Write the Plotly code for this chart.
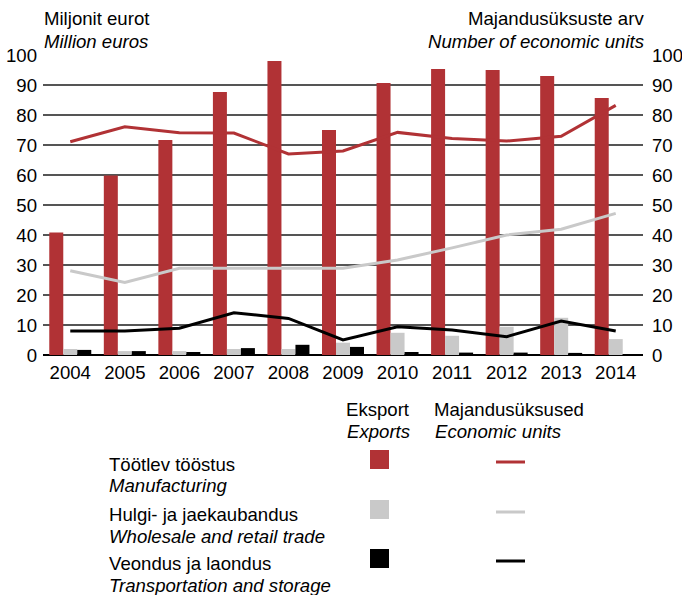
import plotly.graph_objects as go

years = ["2004", "2005", "2006", "2007", "2008", "2009", "2010", "2011", "2012", "2013", "2014"]
exports_manufacturing = [40.8, 59.8, 71.7, 87.7, 98.0, 75.0, 90.7, 95.3, 95.0, 93.0, 85.7]
exports_trade = [2.0, 1.3, 1.3, 2.0, 2.0, 4.1, 7.4, 6.4, 9.4, 12.4, 5.3]
exports_transport = [1.7, 1.3, 1.0, 2.3, 3.4, 2.7, 1.0, 0.8, 0.8, 0.7, 0.3]
units_manufacturing = [71.1, 76.1, 74.1, 74.0, 67.0, 68.0, 74.2, 72.2, 71.3, 72.9, 83.2]
units_trade = [28.1, 24.2, 28.9, 28.9, 28.9, 28.9, 31.7, 35.7, 40.0, 41.9, 47.2]
units_transport = [8.0, 8.0, 8.9, 14.1, 12.2, 5.0, 9.4, 8.3, 6.1, 11.3, 8.0]

tick_vals = [0, 10, 20, 30, 40, 50, 60, 70, 80, 90, 100]

series_et = ["Töötlev tööstus", "Hulgi- ja jaekaubandus", "Veondus ja laondus"]
series_en = ["Manufacturing", "Wholesale and retail trade", "Transportation and storage"]
colors = ["#B13235", "#C9C9C9", "#000000"]

FONT = "Liberation Sans, Arial, sans-serif"
FS = 18.6

W, H = 682, 595
L, R, T, B = 43, 39, 55, 240
PW = W - L - R
PH = H - T - B


def px(x):
    return (x - L) / PW


def py(y):
    return (H - B - y) / PH


fig = go.Figure()
for vals, col, name in zip([exports_manufacturing, exports_trade, exports_transport], colors, series_en):
    fig.add_trace(go.Bar(x=years, y=vals, marker=dict(color=col, line=dict(width=0)),
                         name=name, showlegend=False))
for vals, col, name in zip([units_manufacturing, units_trade, units_transport], colors, series_en):
    fig.add_trace(go.Scatter(x=years, y=vals, mode="lines", line=dict(color=col, width=3),
                             yaxis="y2", name=name, showlegend=False))

annotations = []
shapes = []

# header texts
annotations.append(dict(x=px(42), y=py(18), xref="paper", yref="paper", text="Miljonit eurot",
                        xanchor="left", yanchor="middle", showarrow=False))
annotations.append(dict(x=px(42), y=py(41), xref="paper", yref="paper", text="<i>Million euros</i>",
                        xanchor="left", yanchor="middle", showarrow=False))
annotations.append(dict(x=px(646), y=py(18), xref="paper", yref="paper", text="Majandusüksuste arv",
                        xanchor="right", yanchor="middle", showarrow=False))
annotations.append(dict(x=px(646), y=py(41), xref="paper", yref="paper", text="<i>Number of economic units</i>",
                        xanchor="right", yanchor="middle", showarrow=False))

# legend headers
annotations.append(dict(x=px(378), y=py(409), xref="paper", yref="paper", text="Eksport",
                        xanchor="center", yanchor="middle", showarrow=False))
annotations.append(dict(x=px(378), y=py(431), xref="paper", yref="paper", text="<i>Exports</i>",
                        xanchor="center", yanchor="middle", showarrow=False))
annotations.append(dict(x=px(432), y=py(409), xref="paper", yref="paper", text="Majandusüksused",
                        xanchor="left", yanchor="middle", showarrow=False))
annotations.append(dict(x=px(433), y=py(431), xref="paper", yref="paper", text="<i>Economic units</i>",
                        xanchor="left", yanchor="middle", showarrow=False))

row_top = [464, 514, 563]
for i, (et, en, col) in enumerate(zip(series_et, series_en, colors)):
    yt = row_top[i]
    annotations.append(dict(x=px(107), y=py(yt), xref="paper", yref="paper", text=et,
                            xanchor="left", yanchor="middle", showarrow=False))
    annotations.append(dict(x=px(107), y=py(yt + 22), xref="paper", yref="paper", text="<i>" + en + "</i>",
                            xanchor="left", yanchor="middle", showarrow=False))
    sq_c = yt - 4.5
    shapes.append(dict(type="rect", xref="paper", yref="paper", x0=px(370), x1=px(389),
                       y0=py(sq_c - 9.5), y1=py(sq_c + 9.5), fillcolor=col, line=dict(width=0)))
    ln_y = yt - 2
    shapes.append(dict(type="line", xref="paper", yref="paper", x0=px(496), x1=px(525),
                       y0=py(ln_y), y1=py(ln_y), line=dict(color=col, width=3)))

fig.update_layout(
    width=W, height=H, autosize=False,
    margin=dict(l=L, r=R, t=T, b=B, pad=0, autoexpand=False),
    paper_bgcolor="white", plot_bgcolor="white",
    font=dict(family=FONT, size=FS, color="#000000"),
    barmode="group", bargap=0.23, bargroupgap=0,
    showlegend=False,
    xaxis=dict(type="category", showgrid=False, showline=False, ticks="", automargin=False,
               tickfont=dict(size=FS), ticklabelstandoff=4),
    yaxis=dict(range=[0, 100], tickvals=tick_vals, showgrid=True, gridcolor="#555555", gridwidth=1.5,
               zeroline=True, zerolinecolor="#000000", zerolinewidth=1.5, showline=False, ticks="",
               automargin=False, ticklabelstandoff=5),
    yaxis2=dict(range=[0, 100], tickvals=tick_vals, overlaying="y", side="right", showgrid=False,
                zeroline=False, showline=False, ticks="", automargin=False, ticklabelstandoff=8),
    annotations=annotations,
    shapes=shapes,
)

fig.write_html("out.html", config={"displayModeBar": False},
               post_script="document.body.style.margin='0';document.body.style.padding='0';")
